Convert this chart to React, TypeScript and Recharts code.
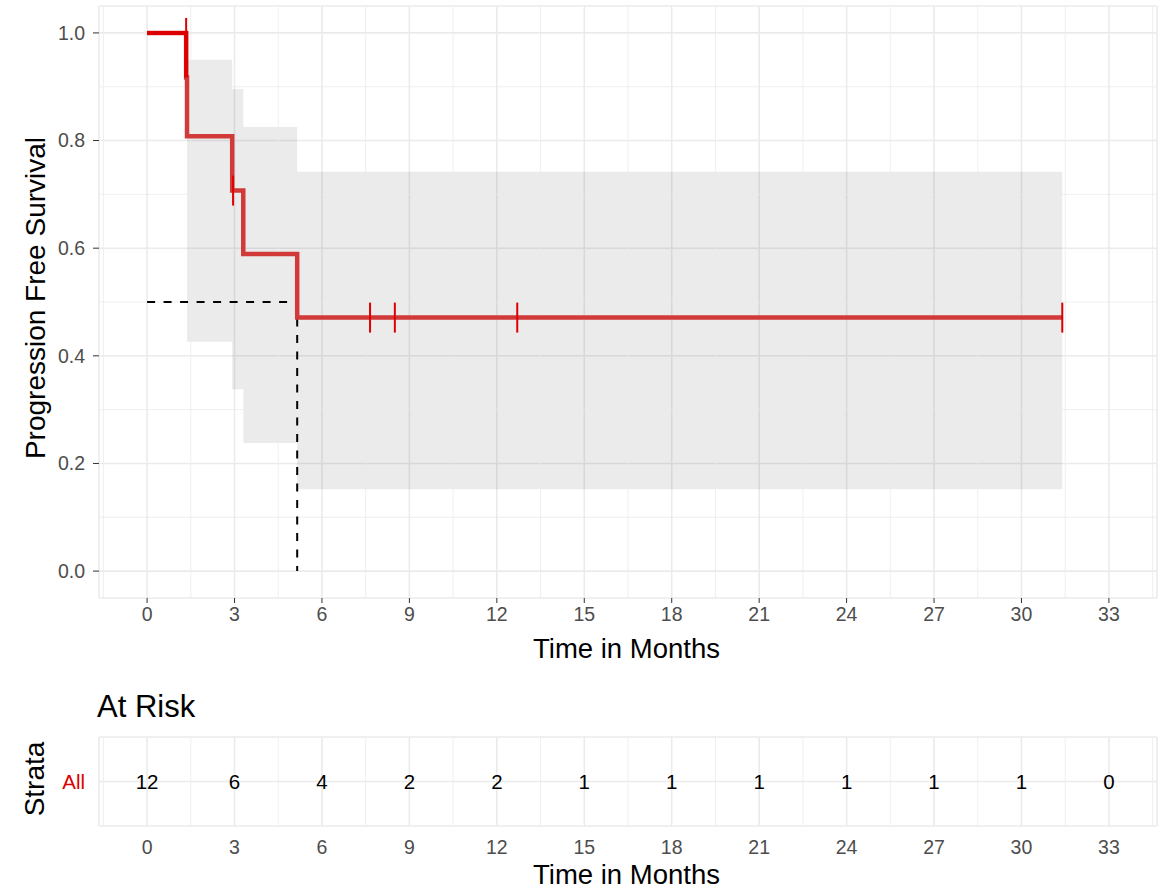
import React from 'react';
import { ComposedChart, Line, Area, Scatter, XAxis, YAxis, CartesianGrid, ReferenceLine } from 'recharts';

// axis ticks
const timeTicks = [0, 3, 6, 9, 12, 15, 18, 21, 24, 27, 30, 33];
const minorTime = [-1.5, 1.5, 4.5, 7.5, 10.5, 13.5, 16.5, 19.5, 22.5, 25.5, 28.5, 31.5, 34.5];
const survTicks = [0, 0.2, 0.4, 0.6, 0.8, 1.0];
const minorSurv = [0.1, 0.3, 0.5, 0.7, 0.9];

// Kaplan-Meier steps + confidence band
const stepTimes = [0, 1.34, 1.37, 2.92, 3.3, 5.15, 31.4];
const survival = [1.0, 0.917, 0.808, 0.707, 0.589, 0.471, 0.471];
const ciLower = [null, null, 0.426, 0.338, 0.238, 0.152, 0.152];
const ciUpper = [null, null, 0.95, 0.896, 0.825, 0.742, 0.742];

// censored observations
const censorTimes = [1.34, 2.95, 7.65, 8.5, 12.7, 31.4];
const censorSurv = [1.0, 0.707, 0.471, 0.471, 0.471, 0.471];

// median survival
const medianTime = 5.15;
const medianSurv = 0.5;

// at risk table
const strata = ['All'];
const atRisk = [12, 6, 4, 2, 2, 1, 1, 1, 1, 1, 1, 0];

const kmData = stepTimes.map((t, i) => ({
  t,
  surv: survival[i],
  band: ciLower[i] == null ? null : [ciLower[i], ciUpper[i]],
}));
const firstStep = kmData.slice(0, 2);
const censorData = censorTimes.map((t, i) => ({ t, s: censorSurv[i] }));
const riskData = timeTicks.map((t, i) => ({ t, row: 1, n: atRisk[i] }));

const FONT = '"Liberation Sans", Arial, sans-serif';
const GRID = '#EBEBEB';
const xDomain = [-1.65, 34.65];

const CensorMark = (props: any) => {
  const { cx, cy } = props;
  if (cx == null || cy == null) return null;
  return <line x1={cx} x2={cx} y1={cy - 15} y2={cy + 15} stroke="#DD0000" strokeWidth={2} />;
};

const RiskLabel = (props: any) => {
  const { cx, cy, payload } = props;
  if (cx == null || cy == null) return null;
  return (
    <text x={cx} y={cy} textAnchor="middle" dominantBaseline="central" fontSize={20.5} fill="#000" fontFamily={FONT}>
      {payload.n}
    </text>
  );
};

const abs = (left: number, top: number, extra: React.CSSProperties = {}): React.CSSProperties => ({
  position: 'absolute',
  left,
  top,
  fontFamily: FONT,
  whiteSpace: 'nowrap',
  ...extra,
});

const App: React.FC = () => {
  return (
    <div style={{ position: 'relative', width: 1163, height: 892, background: '#fff', fontFamily: FONT }}>
      <style>{'body{margin:0}'}</style>

      <div style={{ position: 'absolute', left: 0, top: 0 }}>
        <ComposedChart width={1163} height={668} data={kmData} margin={{ top: 6, right: 6, left: 0, bottom: 0 }}>
          <CartesianGrid stroke={GRID} strokeWidth={1.6} />
          {minorTime.map((v) => (
            <ReferenceLine key={'mx' + v} x={v} stroke={GRID} strokeWidth={0.8} ifOverflow="visible" />
          ))}
          {minorSurv.map((v) => (
            <ReferenceLine key={'my' + v} y={v} stroke={GRID} strokeWidth={0.8} />
          ))}
          <XAxis
            dataKey="t"
            type="number"
            domain={xDomain}
            ticks={timeTicks}
            allowDataOverflow
            axisLine={false}
            tickLine={{ stroke: '#333' }}
            tickSize={5}
            tickMargin={4}
            height={70}
            tick={{ fontSize: 19.5, fill: '#4D4D4D', fontFamily: FONT }}
          />
          <YAxis
            type="number"
            domain={[-0.05, 1.05]}
            ticks={survTicks}
            allowDataOverflow
            width={99}
            axisLine={false}
            tickLine={{ stroke: '#333' }}
            tickSize={6}
            tickMargin={8}
            tickFormatter={(v: number) => v.toFixed(1)}
            tick={{ fontSize: 19.5, fill: '#4D4D4D', fontFamily: FONT }}
          />
          <Area
            dataKey="band"
            type="stepAfter"
            fill="#000"
            fillOpacity={0.08}
            stroke="none"
            isAnimationActive={false}
          />
          <ReferenceLine
            segment={[{ x: 0, y: medianSurv }, { x: medianTime, y: medianSurv }]}
            stroke="#000"
            strokeWidth={2}
            strokeDasharray="8 8.5"
          />
          <ReferenceLine
            segment={[{ x: medianTime, y: medianSurv }, { x: medianTime, y: 0 }]}
            stroke="#000"
            strokeWidth={2}
            strokeDasharray="8 8.5"
          />
          <Line
            dataKey="surv"
            type="stepAfter"
            stroke="#D23A3A"
            strokeWidth={4.5}
            dot={false}
            isAnimationActive={false}
          />
          <Line
            data={firstStep}
            dataKey="surv"
            type="stepAfter"
            stroke="#DD0000"
            strokeWidth={4}
            dot={false}
            isAnimationActive={false}
          />
          <Scatter data={censorData} dataKey="s" shape={<CensorMark />} isAnimationActive={false} />
        </ComposedChart>
      </div>

      <div style={abs(533, 633, { fontSize: 27.5, color: '#000' })}>Time in Months</div>
      <div style={abs(36, 298, { fontSize: 28, color: '#000', transform: 'translate(-50%, -50%) rotate(-90deg)' })}>
        Progression Free Survival
      </div>

      <div style={abs(97, 689, { fontSize: 31, color: '#000' })}>At Risk</div>

      <div style={{ position: 'absolute', left: 0, top: 730 }}>
        <ComposedChart width={1163} height={136} data={riskData} margin={{ top: 7, right: 6, left: 0, bottom: 0 }}>
          <CartesianGrid stroke={GRID} strokeWidth={1.6} />
          {minorTime.map((v) => (
            <ReferenceLine key={'rx' + v} x={v} stroke={GRID} strokeWidth={0.8} ifOverflow="visible" />
          ))}
          <XAxis
            dataKey="t"
            type="number"
            domain={xDomain}
            ticks={timeTicks}
            allowDataOverflow
            axisLine={false}
            tickLine={false}
            tickSize={5}
            tickMargin={9}
            height={40}
            tick={{ fontSize: 19.5, fill: '#4D4D4D', fontFamily: FONT }}
          />
          <YAxis
            type="number"
            domain={[0, 2]}
            ticks={[1]}
            width={99}
            axisLine={false}
            tickLine={false}
            tickSize={6}
            tickMargin={8}
            tickFormatter={() => strata[0]}
            tick={{ fontSize: 20.5, fill: '#DD0000', fontFamily: FONT }}
          />
          <Scatter dataKey="row" shape={<RiskLabel />} isAnimationActive={false} />
        </ComposedChart>
      </div>

      <div style={abs(533, 860, { fontSize: 27.5, color: '#000', lineHeight: '30px' })}>Time in Months</div>
      <div style={abs(35, 779, { fontSize: 28, color: '#000', transform: 'translate(-50%, -50%) rotate(-90deg)' })}>
        Strata
      </div>
    </div>
  );
};

export default App;
